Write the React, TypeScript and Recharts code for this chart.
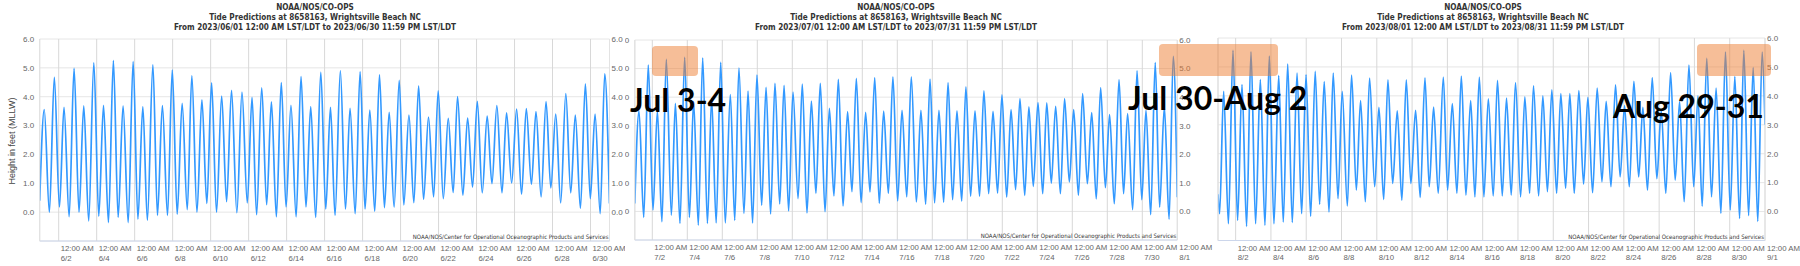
import React from 'react';
import { LineChart, Line, XAxis, YAxis, CartesianGrid } from 'recharts';

// Tide extrema: [day offset from month start, height ft MLLW]
const juneTide: [number, number][] = [
  [0, 0.4], [0.24, 3.55], [0.51, 0.0], [0.77, 4.67], [1.04, 0.18], [1.28, 3.63], [1.55, -0.16], [1.81, 4.98],
  [2.07, 0.0], [2.32, 3.68], [2.58, -0.3], [2.85, 5.17], [3.11, -0.14], [3.36, 3.7], [3.62, -0.36], [3.88, 5.25],
  [4.13, -0.18], [4.39, 3.68], [4.66, -0.36], [4.92, 5.22], [5.17, -0.24], [5.43, 3.66], [5.67, -0.28], [5.96, 5.1],
  [6.2, -0.11], [6.46, 3.69], [6.73, -0.11], [6.98, 4.92], [7.24, -0.07], [7.5, 3.77], [7.77, 0.09], [8.01, 4.72],
  [8.28, 0.0], [8.54, 3.89], [8.8, 0.3], [9.05, 4.48], [9.31, 0.0], [9.58, 4.02], [9.84, 0.36], [10.1, 4.22],
  [10.38, -0.02], [10.65, 4.16], [10.93, 0.32], [11.18, 3.98], [11.42, -0.09], [11.69, 4.31], [11.95, 0.26], [12.2, 3.82],
  [12.46, -0.16], [12.72, 4.49], [12.97, 0.18], [13.23, 3.7], [13.5, -0.16], [13.76, 4.7], [14.02, 0.18], [14.27, 3.66],
  [14.53, -0.18], [14.8, 4.84], [15.06, 0.11], [15.31, 3.63], [15.55, -0.11], [15.83, 4.9], [16.1, 0.11], [16.34, 3.6],
  [16.61, -0.05], [16.87, 4.86], [17.13, 0.11], [17.38, 3.54], [17.64, 0.03], [17.89, 4.76], [18.15, 0.16], [18.4, 3.46],
  [18.66, 0.18], [18.93, 4.57], [19.17, 0.25], [19.44, 3.36], [19.7, 0.33], [19.95, 4.38], [20.21, 0.44], [20.47, 3.29],
  [20.74, 0.53], [20.98, 4.2], [21.25, 0.47], [21.51, 3.25], [21.77, 0.68], [22.0, 4.0], [22.28, 0.59], [22.53, 3.26],
  [22.79, 0.87], [23.04, 3.84], [23.3, 0.67], [23.56, 3.33], [23.81, 0.99], [24.07, 3.69], [24.34, 0.67], [24.58, 3.44],
  [24.85, 1.01], [25.11, 3.57], [25.37, 0.62], [25.62, 3.59], [25.89, 0.97], [26.13, 3.48], [26.4, 0.53], [26.66, 3.83],
  [26.91, 0.84], [27.17, 3.4], [27.43, 0.32], [27.7, 4.11], [27.96, 0.67], [28.2, 3.36], [28.47, 0.13], [28.73, 4.45],
  [28.99, 0.47], [29.24, 3.4], [29.51, -0.05], [29.75, 4.79], [30, 0.3],
];

const julyTide: [number, number][] = [
  [0, 0.28], [0.24, 3.51], [0.51, -0.21], [0.77, 5.12], [1.04, 0.05], [1.29, 3.51], [1.55, -0.36], [1.8, 5.32],
  [2.09, -0.13], [2.32, 3.78], [2.58, -0.42], [2.85, 5.39], [3.12, -0.21], [3.36, 3.85], [3.63, -0.48], [3.88, 5.37],
  [4.15, -0.42], [4.39, 3.95], [4.65, -0.4], [4.91, 5.22], [5.17, -0.4], [5.46, 4.09], [5.71, -0.31], [5.95, 5.02],
  [6.24, -0.07], [6.47, 4.21], [6.73, -0.4], [6.98, 4.77], [7.25, 0.22], [7.5, 4.34], [7.76, -0.09], [8.01, 4.48],
  [8.28, 0.26], [8.53, 4.41], [8.79, 0.02], [9.04, 4.18], [9.33, 0.45], [9.57, 4.46], [9.84, -0.05], [10.09, 3.86],
  [10.35, 0.63], [10.6, 4.48], [10.87, -0.01], [11.12, 3.61], [11.38, 0.54], [11.63, 4.62], [11.9, 0.19], [12.16, 3.49],
  [12.41, 0.69], [12.66, 4.66], [12.93, 0.31], [13.19, 3.47], [13.44, 0.68], [13.71, 4.68], [13.97, 0.28], [14.22, 3.51],
  [14.49, 0.63], [14.75, 4.71], [15.02, 0.37], [15.27, 3.54], [15.54, 0.51], [15.8, 4.71], [16.09, 0.33], [16.35, 3.54],
  [16.62, 0.25], [16.87, 4.63], [17.13, 0.3], [17.38, 3.54], [17.65, 0.32], [17.9, 4.51], [18.16, 0.41], [18.41, 3.52],
  [18.68, 0.36], [18.92, 4.36], [19.19, 0.53], [19.44, 3.52], [19.7, 0.53], [19.95, 4.22], [20.22, 0.62], [20.47, 3.5],
  [20.73, 0.64], [20.98, 4.08], [21.25, 0.5], [21.5, 3.56], [21.76, 0.76], [22.01, 3.95], [22.28, 0.56], [22.52, 3.66],
  [22.77, 0.88], [23.04, 3.81], [23.31, 0.62], [23.54, 3.8], [23.8, 0.99], [24.05, 3.68], [24.32, 0.62], [24.56, 3.95],
  [24.83, 1.03], [25.08, 3.56], [25.35, 0.56], [25.59, 4.12], [25.86, 0.97], [26.11, 3.46], [26.37, 0.44], [26.62, 4.33],
  [26.89, 0.83], [27.13, 3.39], [27.4, 0.27], [27.67, 4.61], [27.93, 0.62], [28.16, 3.42], [28.45, 0.06], [28.7, 4.92],
  [28.97, 0.41], [29.21, 3.54], [29.48, -0.11], [29.74, 5.21], [29.99, 0.15], [30.26, 3.66], [30.53, -0.27], [30.77, 5.43],
  [31, 0.5],
];

const augustTide: [number, number][] = [
  [0, 0.6], [0.09, -0.07], [0.32, 4.16], [0.59, -0.42], [0.85, 5.57], [1.11, -0.3], [1.36, 4.39], [1.62, -0.51],
  [1.87, 5.52], [2.13, -0.42], [2.4, 4.56], [2.66, -0.47], [2.91, 5.37], [3.17, -0.42], [3.44, 4.7], [3.7, -0.36],
  [3.95, 5.1], [4.21, -0.37], [4.48, 4.79], [4.74, -0.07], [4.99, 4.73], [5.25, -0.16], [5.51, 4.85], [5.76, 0.25],
  [6.02, 4.49], [6.29, -0.01], [6.53, 4.79], [6.8, 0.45], [7.04, 4.16], [7.33, 0.2], [7.57, 4.72], [7.84, 0.74],
  [8.08, 3.84], [8.35, 0.34], [8.59, 4.61], [8.88, 0.86], [9.12, 3.6], [9.39, 0.42], [9.63, 4.55], [9.9, 0.97],
  [10.16, 3.48], [10.42, 0.39], [10.67, 4.55], [10.93, 0.97], [11.2, 3.5], [11.46, 0.49], [11.73, 4.62], [11.97, 0.86],
  [12.22, 3.61], [12.48, 0.63], [12.77, 4.65], [13.01, 0.74], [13.28, 3.73], [13.54, 0.63], [13.79, 4.68], [14.05, 0.57],
  [14.32, 3.84], [14.56, 0.51], [14.81, 4.65], [15.07, 0.51], [15.32, 3.9], [15.6, 0.54], [15.84, 4.54], [16.11, 0.54],
  [16.35, 3.92], [16.62, 0.57], [16.86, 4.46], [17.15, 0.51], [17.39, 3.97], [17.66, 0.63], [17.88, 4.35], [18.17, 0.54],
  [18.41, 4.0], [18.67, 0.69], [18.92, 4.21], [19.19, 0.63], [19.43, 4.08], [19.7, 0.8], [19.94, 4.08], [20.19, 0.63],
  [20.45, 4.18], [20.72, 0.95], [20.96, 3.95], [21.23, 0.65], [21.49, 4.27], [21.76, 1.03], [22.0, 3.81], [22.27, 0.86],
  [22.53, 4.38], [22.79, 1.2], [23.04, 3.66], [23.31, 0.86], [23.57, 4.5], [23.84, 1.2], [24.08, 3.6], [24.34, 0.74],
  [24.61, 4.63], [24.87, 1.14], [25.12, 3.5], [25.38, 0.63], [25.65, 4.8], [25.91, 1.09], [26.16, 3.8], [26.42, 0.34],
  [26.69, 5.06], [26.96, 0.86], [27.2, 4.0], [27.44, 0.19], [27.7, 5.3], [27.97, 0.51], [28.23, 4.27], [28.5, -0.06],
  [28.76, 5.51], [29.03, 0.06], [29.29, 4.67], [29.56, -0.24], [29.8, 5.57], [30.07, -0.14], [30.33, 4.98], [30.59, -0.34],
  [30.84, 5.51], [31, 3.0],
];

const yTicks = [0, 1, 2, 3, 4, 5, 6];

const juneTicks = [1, 3, 5, 7, 9, 11, 13, 15, 17, 19, 21, 23, 25, 27, 29];
const juneTickLabels = ['6/2', '6/4', '6/6', '6/8', '6/10', '6/12', '6/14', '6/16', '6/18', '6/20', '6/22', '6/24', '6/26', '6/28', '6/30'];
const julyTicks = [1, 3, 5, 7, 9, 11, 13, 15, 17, 19, 21, 23, 25, 27, 29, 31];
const julyTickLabels = ['7/2', '7/4', '7/6', '7/8', '7/10', '7/12', '7/14', '7/16', '7/18', '7/20', '7/22', '7/24', '7/26', '7/28', '7/30', '8/1'];
const augustTicks = [1, 3, 5, 7, 9, 11, 13, 15, 17, 19, 21, 23, 25, 27, 29, 31];
const augustTickLabels = ['8/2', '8/4', '8/6', '8/8', '8/10', '8/12', '8/14', '8/16', '8/18', '8/20', '8/22', '8/24', '8/26', '8/28', '8/30', '9/1'];

const titleTop = 'NOAA/NOS/CO-OPS';
const titleStation = 'Tide Predictions at 8658163, Wrightsville Beach NC';
const juneRange = 'From 2023/06/01 12:00 AM LST/LDT to 2023/06/30 11:59 PM LST/LDT';
const julyRange = 'From 2023/07/01 12:00 AM LST/LDT to 2023/07/31 11:59 PM LST/LDT';
const augustRange = 'From 2023/08/01 12:00 AM LST/LDT to 2023/08/31 11:59 PM LST/LDT';
const creditText = 'NOAA/NOS/Center for Operational Oceanographic Products and Services';
const yAxisTitle = 'Height in feet (MLLW)';
const callouts = ['Jul 3-4', 'Jul 30-Aug 2', 'Aug 29-31'];

const LINE = '#3399ff';
const AXIS_FONT = "'Liberation Sans', Arial, sans-serif";

type PanelProps = {
  tide: [number, number][];
  days: number;
  ticks: number[];
  tickLabels: string[];
  range: string;
  clipLeft: number;
  clipWidth: number;
  chartLeft: number;
  chartWidth: number;
  plotTop: number;
  plotBottom: number;
  leftW: number;
  rightW: number;
  titleCenter: number;
};

function Panel(p: PanelProps) {
  const data = p.tide.map(([t, h]) => ({ t, h }));
  const XTick = (props: any) => {
    const { x, y, payload } = props;
    const i = p.ticks.indexOf(payload.value);
    return (
      <text x={x + 2} y={y} fill="#666" fontSize={7.8} fontFamily={AXIS_FONT} textAnchor="start">
        <tspan x={x + 2} dy={10}>12:00 AM</tspan>
        <tspan x={x + 2} dy={9.5}>{p.tickLabels[i]}</tspan>
      </text>
    );
  };
  const yTickStyle = { fill: '#666', fontSize: 8, fontFamily: AXIS_FONT };
  const plotRight = p.chartLeft + p.chartWidth - p.rightW;
  return (
    <>
      <div style={{ position: 'absolute', left: p.clipLeft, top: 0, width: p.clipWidth, height: 266, overflow: 'hidden' }}>
        <div style={{ position: 'absolute', left: p.chartLeft - p.clipLeft, top: 0 }}>
          <LineChart width={p.chartWidth} height={266} data={data} margin={{ top: p.plotTop, right: 0, bottom: 0, left: 0 }}>
            <CartesianGrid vertical={false} stroke="#e6e6e6" yAxisId="left" />
            <CartesianGrid horizontal={false} stroke="#d8d8d8" yAxisId="left" />
            <XAxis
              dataKey="t"
              type="number"
              domain={[0, p.days]}
              ticks={p.ticks}
              interval={0}
              allowDataOverflow
              height={266 - p.plotBottom}
              tickLine={false}
              tickSize={0}
              tickMargin={0}
              axisLine={{ stroke: '#ccd6eb' }}
              tick={XTick}
            />
            <YAxis
              yAxisId="left"
              orientation="left"
              type="number"
              domain={[-1, 6]}
              ticks={yTicks}
              interval={0}
              allowDataOverflow
              width={p.leftW}
              tickLine={false}
              tickSize={0}
              tickMargin={5.5}
              axisLine={{ stroke: '#e3e3e3' }}
              tick={yTickStyle}
              tickFormatter={(v: number) => v.toFixed(1)}
            />
            <YAxis
              yAxisId="right"
              orientation="right"
              type="number"
              domain={[-1, 6]}
              ticks={yTicks}
              interval={0}
              allowDataOverflow
              width={p.rightW}
              tickLine={false}
              tickSize={0}
              tickMargin={2}
              axisLine={{ stroke: '#e3e3e3' }}
              tick={{ ...yTickStyle, textAnchor: 'start' }}
              tickFormatter={(v: number) => v.toFixed(1)}
            />
            <Line
              yAxisId="left"
              dataKey="h"
              type="monotone"
              dot={false}
              stroke={LINE}
              strokeWidth={1.7}
              isAnimationActive={false}
            />
          </LineChart>
        </div>
        <div
          style={{
            position: 'absolute',
            left: plotRight - 1 - 300 - p.clipLeft,
            width: 300,
            top: p.plotBottom - 8,
            textAlign: 'right',
            fontSize: 6,
            lineHeight: '8px',
            color: '#333',
            whiteSpace: 'nowrap',
            fontFamily: "'DejaVu Sans Condensed', 'DejaVu Sans', sans-serif",
          }}
        >
          {creditText}
        </div>
      </div>
      <div
        style={{
          position: 'absolute',
          left: p.titleCenter - 200,
          width: 400,
          top: 2,
          textAlign: 'center',
          fontFamily: "'Liberation Sans Narrow', 'DejaVu Sans Condensed', sans-serif",
          fontWeight: 'bold',
          fontSize: 9,
          lineHeight: '10px',
          color: '#333',
          whiteSpace: 'nowrap',
          transform: 'scaleX(0.9)',
        }}
      >
        <div>{titleTop}</div>
        <div>{titleStation}</div>
        <div>{p.range}</div>
      </div>
    </>
  );
}

const calloutStyle: React.CSSProperties = {
  position: 'absolute',
  fontFamily: 'Lato, sans-serif',
  fontWeight: 700,
  fontSize: 32,
  lineHeight: '32px',
  color: '#000',
  whiteSpace: 'nowrap',
};

const boxStyle: React.CSSProperties = {
  position: 'absolute',
  background: 'rgba(237,125,49,0.5)',
  borderRadius: 4,
};

export default function App() {
  return (
    <div style={{ position: 'fixed', left: 0, top: 0, width: 1800, height: 266, background: '#fff', overflow: 'hidden' }}>
      <Panel
        tide={juneTide}
        days={30}
        ticks={juneTicks}
        tickLabels={juneTickLabels}
        range={juneRange}
        clipLeft={0}
        clipWidth={625}
        chartLeft={0}
        chartWidth={640}
        plotTop={39}
        plotBottom={241}
        leftW={39.7}
        rightW={30.5}
        titleCenter={315}
      />
      <Panel
        tide={julyTide}
        days={31}
        ticks={julyTicks}
        tickLabels={julyTickLabels}
        range={julyRange}
        clipLeft={625}
        clipWidth={588}
        chartLeft={595}
        chartWidth={620}
        plotTop={40}
        plotBottom={240}
        leftW={39.8}
        rightW={37.7}
        titleCenter={896}
      />
      <Panel
        tide={augustTide}
        days={31}
        ticks={augustTicks}
        tickLabels={augustTickLabels}
        range={augustRange}
        clipLeft={1213}
        clipWidth={587}
        chartLeft={1178}
        chartWidth={622}
        plotTop={38}
        plotBottom={240.5}
        leftW={40}
        rightW={35}
        titleCenter={1482.5}
      />
      <div
        style={{
          position: 'absolute',
          left: 12.3 - 60,
          top: 140.5 - 6,
          width: 120,
          height: 12,
          lineHeight: '12px',
          textAlign: 'center',
          transform: 'rotate(-90deg)',
          fontFamily: AXIS_FONT,
          fontSize: 9,
          color: '#444',
          whiteSpace: 'nowrap',
        }}
      >
        {yAxisTitle}
      </div>
      <div style={{ ...boxStyle, left: 651.7, top: 46, width: 46, height: 30 }} />
      <div style={{ ...boxStyle, left: 1159, top: 44, width: 119, height: 32 }} />
      <div style={{ ...boxStyle, left: 1697, top: 44.3, width: 74, height: 31.7 }} />
      <div style={{ ...calloutStyle, left: 630, top: 112 - 28.4 }}>{callouts[0]}</div>
      <div style={{ ...calloutStyle, left: 1128, top: 110.5 - 28.4 }}>{callouts[1]}</div>
      <div style={{ ...calloutStyle, left: 1613, top: 118 - 28.4 }}>{callouts[2]}</div>
    </div>
  );
}
